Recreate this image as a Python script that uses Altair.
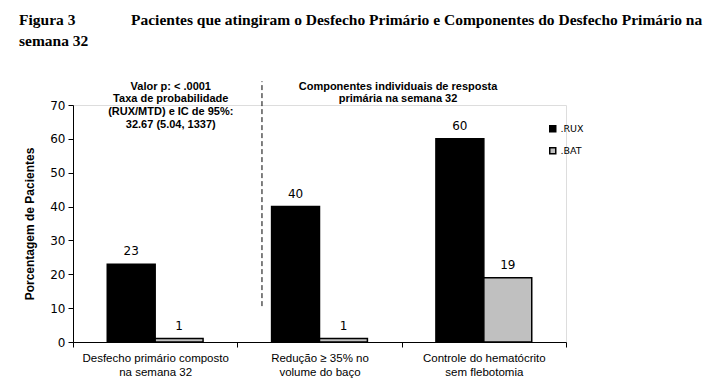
import altair as alt
import pandas as pd

categories = [
    "Desfecho primário composto|na semana 32",
    "Redução ≥ 35% no|volume do baço",
    "Controle do hematócrito|sem flebotomia",
]
series = [".RUX", ".BAT"]
rux = [23, 40, 60]
bat = [1, 1, 19]
colors = ["#000000", "#c0c0c0"]
y_ticks = [0, 10, 20, 30, 40, 50, 60, 70]

rows = []
for c, r, b in zip(categories, rux, bat):
    rows.append({"cat": c, "serie": series[0], "val": r})
    rows.append({"cat": c, "serie": series[1], "val": b})
df = pd.DataFrame(rows)

annot1 = "Valor p: < .0001\nTaxa de probabilidade\n(RUX/MTD) e IC  de 95%:\n32.67 (5.04, 1337)"
annot2 = "Componentes individuais de resposta\nprimária na semana 32"

xscale = alt.Scale(domain=categories, paddingInner=0, paddingOuter=0)
yscale = alt.Scale(domain=[0, 70], nice=False)

x_axis = alt.Axis(
    title=None,
    labelExpr="split(datum.label, '|')",
    labelAngle=0,
    labelFont="Liberation Sans",
    labelFontSize=11.5,
    labelColor="black",
    labelLineHeight=14,
    labelPadding=5,
    labelBaseline="top",
    tickBand="extent",
    tickSize=5,
    tickColor="black",
    domainColor="black",
    grid=False,
)
y_axis = alt.Axis(
    title="Porcentagem de Pacientes",
    titleFont="Liberation Sans",
    titleFontSize=12,
    titleFontWeight="bold",
    titleColor="black",
    titlePadding=13,
    values=y_ticks,
    tickCount=8,
    labelOverlap=False,
    labelFont="DejaVu Sans",
    labelFontSize=12,
    labelColor="black",
    labelPadding=3,
    tickSize=5,
    tickColor="black",
    domainColor="black",
    grid=False,
)


def xe(**kw):
    return alt.X("cat:N", scale=xscale, sort=categories, axis=x_axis, **kw)


def ye(field):
    return alt.Y(field, scale=yscale, axis=y_axis)


xoff = alt.XOffset("serie:N", sort=series, scale=alt.Scale(domain=series, paddingInner=0, paddingOuter=0.715))

bars = alt.Chart(df).mark_bar(stroke="black", strokeWidth=1.5).encode(
    x=xe(),
    y=ye("val:Q"),
    xOffset=xoff,
    color=alt.Color(
        "serie:N",
        scale=alt.Scale(domain=series, range=colors),
        legend=alt.Legend(
            title=None,
            orient="none",
            legendX=475,
            legendY=19,
            padding=0,
            symbolType="square",
            symbolSize=36,
            symbolStrokeColor="black",
            symbolStrokeWidth=1.5,
            labelFont="DejaVu Sans",
            labelFontSize=9.5,
            labelColor="black",
            labelOffset=3,
            rowPadding=9,
        ),
    ),
)

labels = alt.Chart(df).mark_text(
    font="DejaVu Sans", fontSize=12, color="black", baseline="middle", dy=-13
).encode(
    x=xe(),
    y=ye("val:Q"),
    xOffset=xoff,
    text="val:Q",
)

rule_df = pd.DataFrame({"cat": [categories[1]], "val": [10.6], "y2": [77.0]})
rule = alt.Chart(rule_df).mark_rule(color="black", strokeWidth=1, strokeDash=[5, 3]).encode(
    x=xe(bandPosition=0.15),
    y=ye("val:Q"),
    y2="y2:Q",
)

ann_df = pd.DataFrame(
    {"cat": [categories[0], categories[1]], "val": [77.2, 77.2], "t": [annot1, annot2]}
)
ann1 = alt.Chart(ann_df.iloc[[0]]).mark_text(
    font="Liberation Sans", fontSize=11, fontWeight="bold", color="black",
    baseline="top", align="center", lineBreak="\n", lineHeight=12.8,
).encode(
    x=xe(bandPosition=0.595),
    y=ye("val:Q"),
    text="t:N",
)
ann2 = alt.Chart(ann_df.iloc[[1]]).mark_text(
    font="Liberation Sans", fontSize=11, fontWeight="bold", color="black",
    baseline="top", align="center", lineBreak="\n", lineHeight=12,
).encode(
    x=xe(bandPosition=0.978),
    y=ye("val:Q"),
    text="t:N",
)

title_df = pd.DataFrame({"a": [0]})
t_fig = alt.Chart(title_df).mark_text(
    text="Figura 3", font="Liberation Serif", fontSize=15.5, fontWeight="bold",
    color="black", align="left", baseline="alphabetic",
).encode(x=alt.value(-54), y=alt.value(-80))
t_main = alt.Chart(title_df).mark_text(
    text="Pacientes que atingiram o Desfecho Primário e Componentes do Desfecho Primário na",
    font="Liberation Serif", fontSize=15.5, fontWeight="bold",
    color="black", align="left", baseline="alphabetic",
).encode(x=alt.value(58), y=alt.value(-80))
t_sem = alt.Chart(title_df).mark_text(
    text="semana 32", font="Liberation Serif", fontSize=15.5, fontWeight="bold",
    color="black", align="left", baseline="alphabetic",
).encode(x=alt.value(-54), y=alt.value(-59))

chart = alt.layer(bars, labels, rule, ann1, ann2, t_fig, t_main, t_sem).properties(
    width=493,
    height=237,
    padding={"left": 65, "top": 97, "right": 148, "bottom": 40},
    autosize=alt.AutoSizeParams(type="none"),
).configure_view(stroke=None).configure(background="white")

chart.save("out.html", embed_options={"renderer": "svg", "actions": False})
